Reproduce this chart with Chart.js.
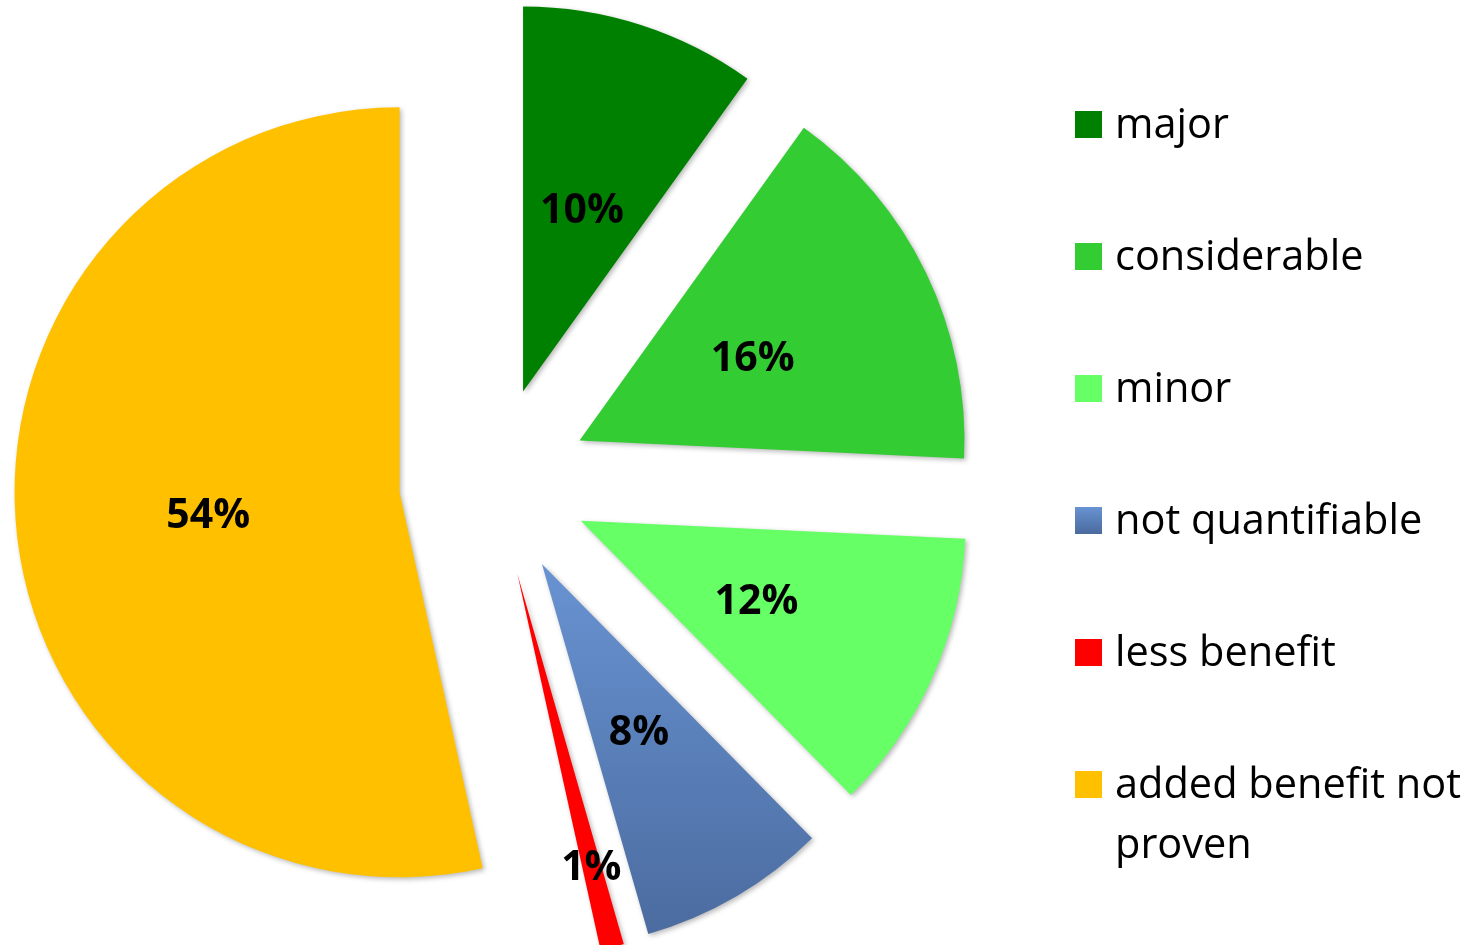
<!DOCTYPE html>
<html>
<head>
<meta charset="utf-8">
<script src="https://cdn.jsdelivr.net/npm/chart.js@4/dist/chart.umd.min.js"></script>
<style>
  html, body { margin: 0; padding: 0; background: #ffffff; }
  #wrap { position: relative; width: 1476px; height: 945px; overflow: hidden; }
  #pie { position: absolute; left: 0; top: 0; }
  #legend { position: absolute; left: 1075px; top: 0; font-family: "Open Sans", "Liberation Sans", sans-serif; font-size: 41.5px; line-height: 60px; color: #000; }
  .item { position: absolute; left: 0; white-space: nowrap; }
  .box { position: absolute; left: 0; top: 19px; width: 27px; height: 27px; }
  .label { position: absolute; left: 40px; top: 0; }
</style>
</head>
<body>
<div id="wrap">
  <canvas id="pie" width="1476" height="945"></canvas>
  <div id="legend"></div>
</div>
<script>
// Benefit ratings and their shares (percent)
const categories = ['major', 'considerable', 'minor', 'not quantifiable', 'less benefit', 'added benefit not proven'];
const shares = [10, 16, 12, 8, 1, 54];

// Appearance
const sliceColors = ['#008000', '#33cc33', '#66ff66', '#5a80bc', '#ff0000', '#ffc000'];
const blueTop = '#6893d2';
const blueBottom = '#4a6a9e';
const explode = 95;            // radial distance every slice is pulled out
const pieRadius = 385;
const labelDepth = [0.5, 0.5, 0.5, 0.5, 0.78, 0.5]; // label distance from slice tip, as a fraction of the radius

// Pie slice that is pulled out from the centre along its bisector by `offset` pixels
class ExplodedArc extends Chart.ArcElement {
  static id = 'explodedArc';
  draw(ctx) {
    const {x, y, startAngle, endAngle, outerRadius} = this;
    const o = this.options;
    if (endAngle - startAngle <= 0) return;
    const mid = (startAngle + endAngle) / 2;
    const d = o.offset || 0;
    ctx.save();
    ctx.translate(Math.cos(mid) * d, Math.sin(mid) * d);
    ctx.beginPath();
    ctx.moveTo(x, y);
    ctx.arc(x, y, outerRadius, startAngle, endAngle);
    ctx.closePath();
    ctx.shadowColor = 'rgba(0,0,0,0.28)';
    ctx.shadowBlur = 5;
    ctx.shadowOffsetX = 2;
    ctx.shadowOffsetY = 2;
    ctx.fillStyle = o.backgroundColor;
    ctx.fill();
    ctx.restore();
  }
}
class ExplodedPie extends Chart.PieController {
  static id = 'explodedPie';
  static defaults = { dataElementType: 'explodedArc' };
}
Chart.register(ExplodedArc, ExplodedPie);

// Percent labels placed inside each pulled-out slice
const sliceLabels = {
  id: 'sliceLabels',
  afterDatasetsDraw(chart) {
    const ctx = chart.ctx;
    const meta = chart.getDatasetMeta(0);
    ctx.save();
    ctx.font = 'bold 41px "Open Sans", "Liberation Sans", sans-serif';
    ctx.fillStyle = '#000';
    ctx.textAlign = 'center';
    ctx.textBaseline = 'middle';
    meta.data.forEach((arc, i) => {
      const mid = (arc.startAngle + arc.endAngle) / 2;
      const r = (arc.options.offset || 0) + arc.outerRadius * labelDepth[i];
      ctx.fillText(shares[i] + '%', arc.x + Math.cos(mid) * r, arc.y + Math.sin(mid) * r + 3);
    });
    ctx.restore();
  }
};

const chart = new Chart(document.getElementById('pie'), {
  type: 'explodedPie',
  data: {
    labels: categories,
    datasets: [{
      data: shares,
      backgroundColor: (c) => {
        if (c.dataIndex !== 3) return sliceColors[c.dataIndex];
        const a = c.chart.chartArea;
        if (!a) return sliceColors[3];
        const cy = (a.top + a.bottom) / 2;
        const g = c.chart.ctx.createLinearGradient(0, cy, 0, cy + pieRadius);
        g.addColorStop(0, blueTop);
        g.addColorStop(1, blueBottom);
        return g;
      },
      borderWidth: 0,
      offset: explode
    }]
  },
  options: {
    responsive: false,
    animation: false,
    radius: pieRadius,
    rotation: 0,
    layout: { padding: { left: 0, right: 488, top: 19, bottom: 0 } },
    plugins: { legend: { display: false }, tooltip: { enabled: false } },
    events: []
  },
  plugins: [sliceLabels]
});

// Legend built from the chart's own label list
const legendEl = document.getElementById('legend');
const wrapLines = { 'added benefit not proven': ['added benefit not', 'proven'] };
chart.data.labels.forEach((name, i) => {
  const item = document.createElement('div');
  item.className = 'item';
  item.style.top = (92 + 132 * i) + 'px';
  const box = document.createElement('div');
  box.className = 'box';
  box.style.background = i === 3 ? `linear-gradient(${blueTop}, ${blueBottom})` : sliceColors[i];
  const text = document.createElement('div');
  text.className = 'label';
  text.innerHTML = (wrapLines[name] || [name]).join('<br>');
  item.appendChild(box);
  item.appendChild(text);
  legendEl.appendChild(item);
});
</script>
</body>
</html>
